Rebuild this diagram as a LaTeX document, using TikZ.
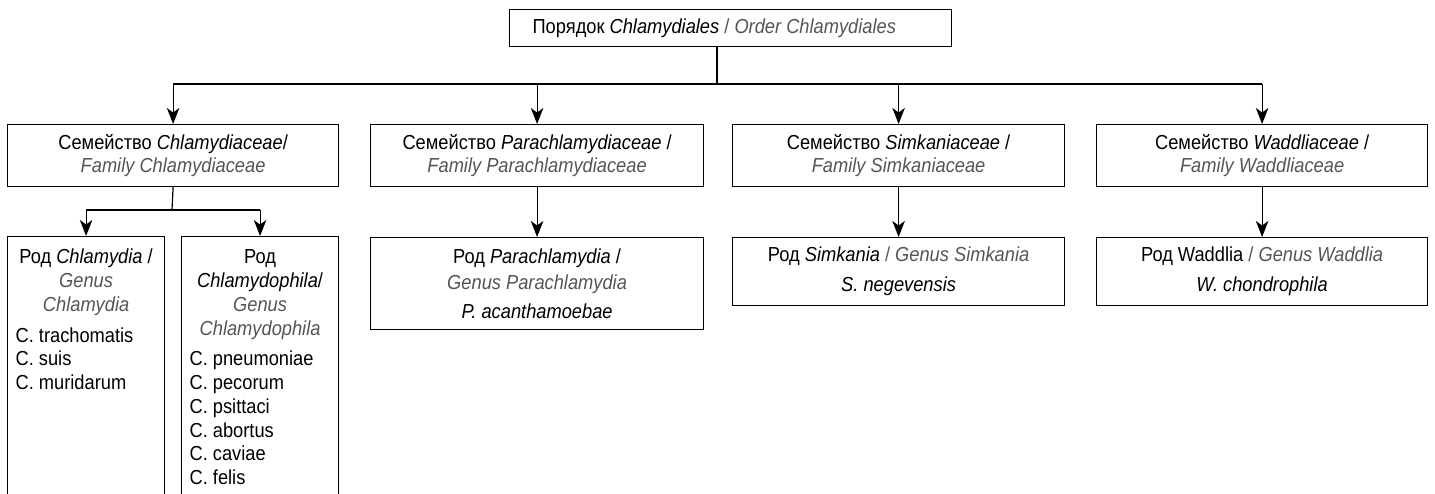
\documentclass[tikz,border=0pt]{standalone}
\usepackage{fontspec}
\setmainfont{Liberation Sans}[FakeStretch=0.9]
\usetikzlibrary{arrows.meta}
\definecolor{eng}{HTML}{555555}
\newcommand{\en}[1]{{\color{eng}\itshape #1}}
\newcommand{\gsl}{{\color{eng}/}}
\begin{document}
\begin{tikzpicture}[x=1pt,y=-1pt,
  box/.style={draw, line width=1.2pt, inner sep=0pt, anchor=north west, align=center,
    font=\fontsize{20.3}{23.8}\selectfont},
  arr/.style={-{Stealth[length=16pt,width=12.5pt,inset=4.5pt]}, line width=1.2pt},
  conn/.style={line width=1.2pt}]
\useasboundingbox[clip] (0,0) rectangle (1435,494);
% top
\node[box, minimum width=442pt, minimum height=37pt] (top) at (509,9)
  {\makebox[442pt][l]{\hspace{23pt}Порядок \textit{Chlamydiales} \gsl{} \en{Order Chlamydiales}}};
% families
\node[box, minimum width=331pt, minimum height=62pt] (f1) at (7,124)
  {Семейство \textit{Chlamydiaceae}/\\ \en{Family Chlamydiaceae}};
\node[box, minimum width=333pt, minimum height=62pt] (f2) at (370,124)
  {Семейство \textit{Parachlamydiaceae} /\\ \en{Family Parachlamydiaceae}};
\node[box, minimum width=332pt, minimum height=62pt] (f3) at (732,124)
  {Семейство \textit{Simkaniaceae} /\\ \en{Family Simkaniaceae}};
\node[box, minimum width=331pt, minimum height=62pt] (f4) at (1096,124)
  {Семейство \textit{Waddliaceae} /\\ \en{Family Waddliaceae}};
% genera
\node[box] (ga) at (7,236)
  {\parbox[c][270pt][t]{157pt}{\centering\rule{0pt}{27pt}Род \textit{Chlamydia} /\\ \en{Genus}\\ \en{Chlamydia}\par
   \vspace{7pt}\raggedright\leftskip=8pt C. trachomatis\\ C. suis\\ C. muridarum\par}};
\node[box] (gb) at (181,236)
  {\parbox[c][270pt][t]{157pt}{\centering\rule{0pt}{27pt}Род\\ \textit{Chlamydophila}/\\ \en{Genus}\\ \en{Chlamydophila}\par
   \vspace{7pt}\raggedright\leftskip=8pt C. pneumoniae\\ C. pecorum\\ C. psittaci\\ C. abortus\\ C. caviae\\ C. felis\par}};
\node[box, minimum width=333pt, minimum height=92pt] (g2) at (370,237)
  {Род \textit{Parachlamydia} /\\[2pt] \en{Genus Parachlamydia}\\[5pt] \textit{P. acanthamoebae}};
\node[box, minimum width=332pt, minimum height=68pt] (g3) at (732,237)
  {Род \textit{Simkania} \gsl{} \en{Genus Simkania}\\[6pt] \textit{S. negevensis}};
\node[box, minimum width=331pt, minimum height=68pt] (g4) at (1096,237)
  {Род Waddlia \gsl{} \en{Genus Waddlia}\\[6pt] \textit{W. chondrophila}};
% connectors
\coordinate (bus) at (717,84);
\coordinate (bus2) at (172,210);
\draw[conn] (top.south -| bus) -- (bus);
\draw[conn] (f1.north |- bus) -- (f4.north |- bus);
\draw[arr] (f1.north |- bus) -- (f1.north);
\draw[arr] (f2.north |- bus) -- (f2.north);
\draw[arr] (f3.north |- bus) -- (f3.north);
\draw[arr] (f4.north |- bus) -- (f4.north);
\draw[conn] (f1.south) -- (bus2);
\draw[conn] (ga.north |- bus2) -- (gb.north |- bus2);
\draw[arr] (ga.north |- bus2) -- (ga.north);
\draw[arr] (gb.north |- bus2) -- (gb.north);
\draw[arr] (f2.south) -- (g2.north);
\draw[arr] (f3.south) -- (g3.north);
\draw[arr] (f4.south) -- (g4.north);
\end{tikzpicture}
\end{document}
